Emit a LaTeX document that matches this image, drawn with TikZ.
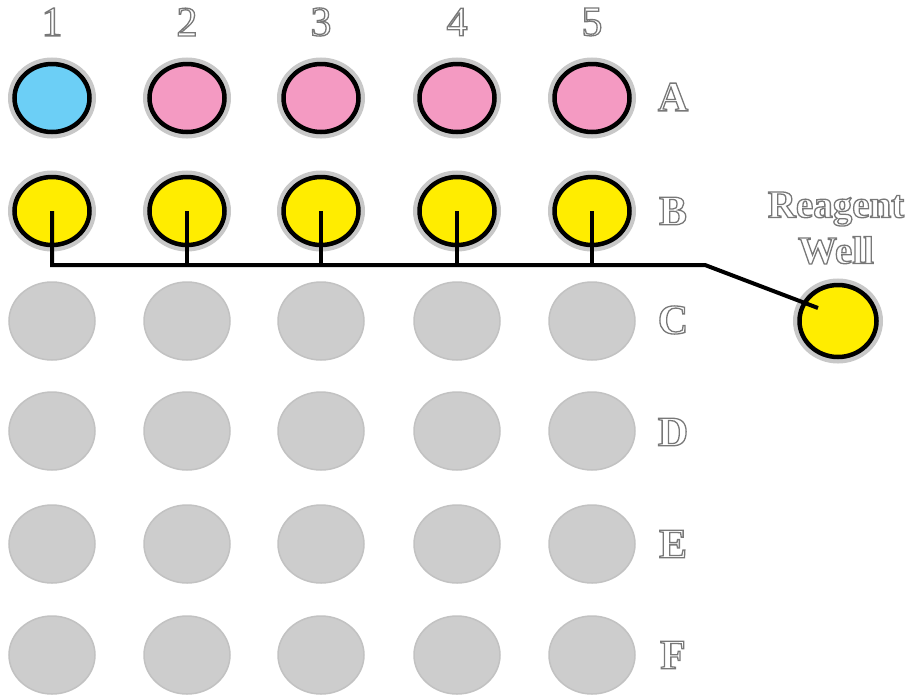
\documentclass[tikz,border=0pt]{standalone}
\usepackage{fontspec}
\setmainfont{Liberation Serif}
\usetikzlibrary{shapes.geometric}
\definecolor{wblue}{HTML}{6CCFF6}
\definecolor{wpink}{HTML}{F49AC2}
\definecolor{wyellow}{HTML}{FFED00}
\definecolor{wgray}{HTML}{CDCDCD}
\definecolor{wgrayline}{HTML}{C2C2C2}
\definecolor{halo}{HTML}{C8C8C8}
\definecolor{labgray}{HTML}{7A7A7A}
\newcommand\outl[1]{\special{pdf:literal direct 1 Tr 1.3 w 0.47 0.47 0.47 RG}#1\special{pdf:literal direct 0 Tr}}
\tikzset{
  activewell/.style={ellipse, inner sep=0pt, minimum width=75pt, minimum height=68pt,
     draw=black, line width=4.5pt, preaction={draw=halo, line width=13pt}},
  emptywell/.style={ellipse, inner sep=0pt, minimum width=86pt, minimum height=78pt,
     fill=wgray, draw=wgrayline, line width=1.5pt},
  lab/.style={inner sep=0pt, text=labgray, font=\fontsize{42}{44}\selectfont},
  conn/.style={draw=black, line width=4pt}
}
\begin{document}
\begin{tikzpicture}[x=1pt,y=-1pt]
\useasboundingbox (0,0) rectangle (918,694);
% column labels
\foreach \c/\x in {1/52,2/187,3/321,4/457,5/592}{
  \node[lab] (col\c) at (\x,22) {\outl{\c}};
}
% row labels
\foreach \r/\y in {A/97,B/211,C/320,D/432,E/544,F/655}{
  \node[lab, font=\fontsize{42}{44}\selectfont\bfseries] (row\r) at (673,\y) {\outl{\r}};
}
% row A
\node[activewell, fill=wblue] (a1) at (52,98) {};
\foreach \c/\x in {2/187,3/321,4/457,5/592}{
  \node[activewell, fill=wpink] (a\c) at (\x,98) {};
}
% row B
\foreach \c/\x in {1/52,2/187,3/321,4/457,5/592}{
  \node[activewell, fill=wyellow] (b\c) at (\x,211) {};
}
% empty rows
\foreach \r/\y in {c/321,d/431,e/544,f/655}{
  \foreach \c/\x in {1/52,2/187,3/321,4/457,5/592}{
    \node[emptywell] (\r\c) at (\x,\y) {};
  }
}
% reagent well
\node[activewell, fill=wyellow, minimum width=77pt, minimum height=72pt] (rw) at (838,321) {};
\node[lab, font=\fontsize{39}{44}\selectfont\bfseries, align=center] (rwlabel) at (836,228) {\outl{Reagent}\\[2pt]\outl{Well}};
% connectors
\coordinate (bend) at (705,265);
\coordinate (rend) at (818,308);
\draw[conn] (b1.center) |- (bend) -- (rend);
\foreach \c in {2,3,4,5}{
  \draw[conn] (b\c.center) -- (b\c.center |- bend);
}
\end{tikzpicture}
\end{document}
